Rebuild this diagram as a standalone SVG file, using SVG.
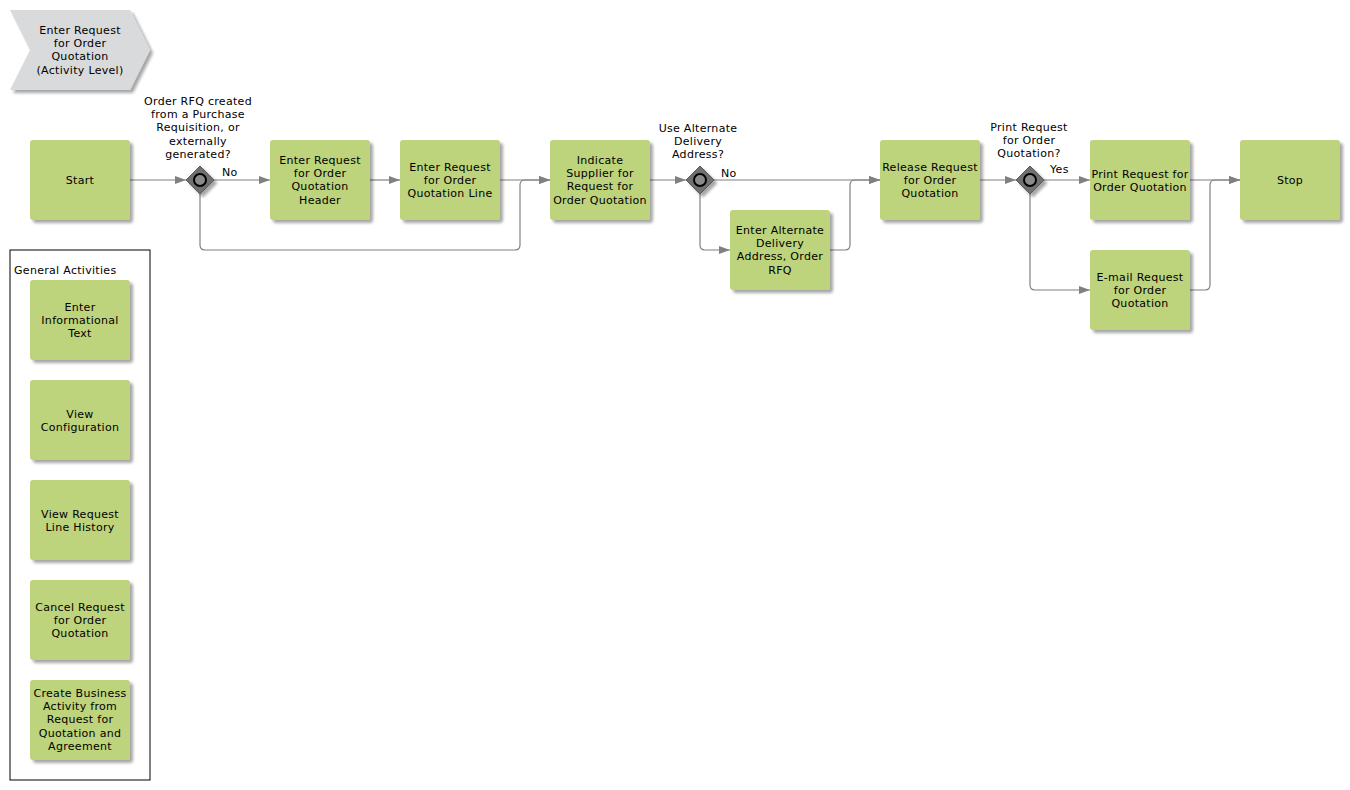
<svg xmlns="http://www.w3.org/2000/svg" width="1350" height="790" viewBox="0 0 1350 790">
<defs>
<filter id="sh" x="-10%" y="-10%" width="130%" height="130%">
<feGaussianBlur in="SourceAlpha" stdDeviation="1.5"/>
<feOffset dx="3" dy="3" result="b"/>
<feComponentTransfer><feFuncA type="linear" slope="0.35"/></feComponentTransfer>
<feMerge><feMergeNode/><feMergeNode in="SourceGraphic"/></feMerge>
</filter>
<marker id="arr" markerWidth="12" markerHeight="10" refX="11" refY="5" orient="auto" markerUnits="userSpaceOnUse">
<path d="M0,1 L11,5 L0,9 Z" fill="#808080"/>
</marker>
</defs>
<style>
text{font-family:"DejaVu Sans","Noto Sans",sans-serif;font-size:11px;letter-spacing:0.3px;fill:#000}
.c{text-anchor:middle}
.box{fill:#bdd37c;filter:url(#sh)}
.conn path{fill:none;stroke:#808080;stroke-width:1.2;marker-end:url(#arr)}
.gw{fill:#707070;stroke:#5a5a5a;stroke-width:1;filter:url(#sh)}
.gi{fill:#8a8a8a;stroke:#000;stroke-width:2}
</style>
<rect width="1350" height="790" fill="#fff"/>

<g id="title">
<polygon points="10,10 130,10 150,50 130,90 10,90 30,50" fill="#d9dadc" filter="url(#sh)"/>
<text class="c" x="80" y="34">Enter Request</text>
<text class="c" x="80" y="47">for Order</text>
<text class="c" x="80" y="60">Quotation</text>
<text class="c" x="80" y="74">(Activity Level)</text>
</g>

<g id="general">
<rect x="10" y="250" width="140" height="530" fill="none" stroke="#000" stroke-width="1"/>
<text x="14" y="274">General Activities</text>
</g>

<g class="conn" id="connectors">
<path d="M130,180 H186"/>
<path d="M214,180 H270"/>
<path d="M370,180 H400"/>
<path d="M500,180 H550"/>
<path d="M200,194 V245 Q200,250 205,250 H515 Q520,250 520,245 V185 Q520,180 525,180 H550"/>
<path d="M650,180 H686"/>
<path d="M714,180 H880"/>
<path d="M700,194 V245 Q700,250 705,250 H730"/>
<path d="M830,250 H845 Q850,250 850,245 V185 Q850,180 855,180 H880"/>
<path d="M980,180 H1016"/>
<path d="M1044,180 H1090"/>
<path d="M1030,194 V285 Q1030,290 1035,290 H1090"/>
<path d="M1190,180 H1240"/>
<path d="M1190,290 H1205 Q1210,290 1210,285 V185 Q1210,180 1215,180 H1240"/>
</g>

<g id="labels">
<text x="222" y="176">No</text>
<text x="721" y="177">No</text>
<text x="1050" y="173">Yes</text>
</g>

<g id="start"><rect class="box" x="30" y="140" width="100" height="80" rx="3"/><text class="c" x="80" y="184">Start</text></g>

<g id="gw1">
<polygon class="gw" points="200,166 214,180 200,194 186,180"/>
<circle class="gi" cx="200" cy="180" r="6"/>
<text class="c" x="198" y="105">Order RFQ created</text>
<text class="c" x="198" y="118">from a Purchase</text>
<text class="c" x="198" y="131">Requisition, or</text>
<text class="c" x="198" y="145">externally</text>
<text class="c" x="198" y="158">generated?</text>
</g>

<g id="header"><rect class="box" x="270" y="140" width="100" height="80" rx="3"/>
<text class="c" x="320" y="164">Enter Request</text><text class="c" x="320" y="177">for Order</text><text class="c" x="320" y="190">Quotation</text><text class="c" x="320" y="204">Header</text></g>

<g id="line"><rect class="box" x="400" y="140" width="100" height="80" rx="3"/>
<text class="c" x="450" y="171">Enter Request</text><text class="c" x="450" y="184">for Order</text><text class="c" x="450" y="197">Quotation Line</text></g>

<g id="indicate"><rect class="box" x="550" y="140" width="100" height="80" rx="3"/>
<text class="c" x="600" y="164">Indicate</text><text class="c" x="600" y="177">Supplier for</text><text class="c" x="600" y="190">Request for</text><text class="c" x="600" y="204">Order Quotation</text></g>

<g id="gw2">
<polygon class="gw" points="700,166 714,180 700,194 686,180"/>
<circle class="gi" cx="700" cy="180" r="6"/>
<text class="c" x="698" y="132">Use Alternate</text>
<text class="c" x="698" y="145">Delivery</text>
<text class="c" x="698" y="158">Address?</text>
</g>

<g id="alternate"><rect class="box" x="730" y="210" width="100" height="80" rx="3"/>
<text class="c" x="780" y="234">Enter Alternate</text><text class="c" x="780" y="247">Delivery</text><text class="c" x="780" y="260">Address, Order</text><text class="c" x="780" y="274">RFQ</text></g>

<g id="release"><rect class="box" x="880" y="140" width="100" height="80" rx="3"/>
<text class="c" x="930" y="171">Release Request</text><text class="c" x="930" y="184">for Order</text><text class="c" x="930" y="197">Quotation</text></g>

<g id="gw3">
<polygon class="gw" points="1030,166 1044,180 1030,194 1016,180"/>
<circle class="gi" cx="1030" cy="180" r="6"/>
<text class="c" x="1029" y="131">Print Request</text>
<text class="c" x="1029" y="144">for Order</text>
<text class="c" x="1029" y="157">Quotation?</text>
</g>

<g id="print"><rect class="box" x="1090" y="140" width="100" height="80" rx="3"/>
<text class="c" x="1140" y="178">Print Request for</text><text class="c" x="1140" y="191">Order Quotation</text></g>

<g id="email"><rect class="box" x="1090" y="250" width="100" height="80" rx="3"/>
<text class="c" x="1140" y="281">E-mail Request</text><text class="c" x="1140" y="294">for Order</text><text class="c" x="1140" y="307">Quotation</text></g>

<g id="stop"><rect class="box" x="1240" y="140" width="100" height="80" rx="3"/><text class="c" x="1290" y="184">Stop</text></g>

<g id="ga1"><rect class="box" x="30" y="280" width="100" height="80" rx="3"/>
<text class="c" x="80" y="311">Enter</text><text class="c" x="80" y="324">Informational</text><text class="c" x="80" y="337">Text</text></g>

<g id="ga2"><rect class="box" x="30" y="380" width="100" height="80" rx="3"/>
<text class="c" x="80" y="418">View</text><text class="c" x="80" y="431">Configuration</text></g>

<g id="ga3"><rect class="box" x="30" y="480" width="100" height="80" rx="3"/>
<text class="c" x="80" y="518">View Request</text><text class="c" x="80" y="531">Line History</text></g>

<g id="ga4"><rect class="box" x="30" y="580" width="100" height="80" rx="3"/>
<text class="c" x="80" y="611">Cancel Request</text><text class="c" x="80" y="624">for Order</text><text class="c" x="80" y="637">Quotation</text></g>

<g id="ga5"><rect class="box" x="30" y="680" width="100" height="80" rx="3"/>
<text class="c" x="80" y="697">Create Business</text><text class="c" x="80" y="710">Activity from</text><text class="c" x="80" y="723">Request for</text><text class="c" x="80" y="737">Quotation and</text><text class="c" x="80" y="750">Agreement</text></g>
</svg>
